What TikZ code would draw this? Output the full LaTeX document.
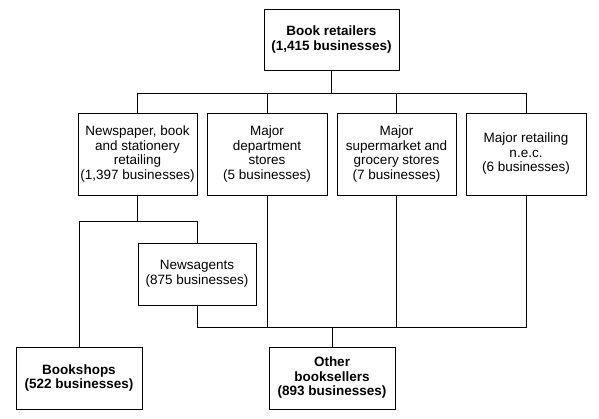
\documentclass[tikz,border=0pt]{standalone}
\usepackage{fontspec}
\setmainfont{Liberation Sans}
\begin{document}
\begin{tikzpicture}[x=1pt,y=-1pt,
  box/.style={draw, line width=0.9pt, align=center, inner sep=0pt,
    font=\fontsize{13.5pt}{14.5pt}\selectfont},
  conn/.style={line width=0.9pt}]
\useasboundingbox (0,0) rectangle (599,419);
% nodes
\node[box, minimum width=135pt, minimum height=61pt] (top) at (331.5,39.5)
  {\bfseries Book retailers\\\bfseries (1,415 businesses)};
\node[box, minimum width=119pt, minimum height=82pt] (n1) at (137.5,154)
  {Newspaper, book\\and stationery\\retailing\\(1,397 businesses)};
\node[box, minimum width=120pt, minimum height=82pt] (n2) at (267,154)
  {Major\\department\\stores\\(5 businesses)};
\node[box, minimum width=119pt, minimum height=82pt] (n3) at (396.5,154)
  {Major\\supermarket and\\grocery stores\\(7 businesses)};
\node[box, minimum width=120pt, minimum height=82pt] (n4) at (526,154)
  {Major retailing\\n.e.c.\\(6 businesses)};
\node[box, minimum width=118pt, minimum height=62pt] (news) at (197,274)
  {Newsagents\\(875 businesses)};
\node[box, minimum width=126pt, minimum height=62pt] (bs) at (79,378)
  {\bfseries Bookshops\\\bfseries (522 businesses)};
\node[box, minimum width=126pt, minimum height=62pt] (other) at (332,378)
  {\bfseries Other\\\bfseries booksellers\\\bfseries (893 businesses)};
% bus coordinates
\coordinate (bus1) at (0,93);
\coordinate (split) at (0,221);
\coordinate (bus2) at (0,327);
% top connectors
\draw[conn] (top.south) -- (top.south |- bus1);
\draw[conn] (n1.north) -- (n1.north |- bus1) -- (n4.north |- bus1) -- (n4.north);
\draw[conn] (n2.north) -- (n2.north |- bus1);
\draw[conn] (n3.north) -- (n3.north |- bus1);
% split of newspaper retailing
\draw[conn] (n1.south) -- (n1.south |- split);
\draw[conn] (bs.north) -- (bs.north |- split) -- (news.north |- split) -- (news.north);
% other booksellers bus
\draw[conn] (news.south) -- (news.south |- bus2) -- (n4.south |- bus2) -- (n4.south);
\draw[conn] (n2.south) -- (n2.south |- bus2);
\draw[conn] (n3.south) -- (n3.south |- bus2);
\draw[conn] (other.north) -- (other.north |- bus2);
\end{tikzpicture}
\end{document}
